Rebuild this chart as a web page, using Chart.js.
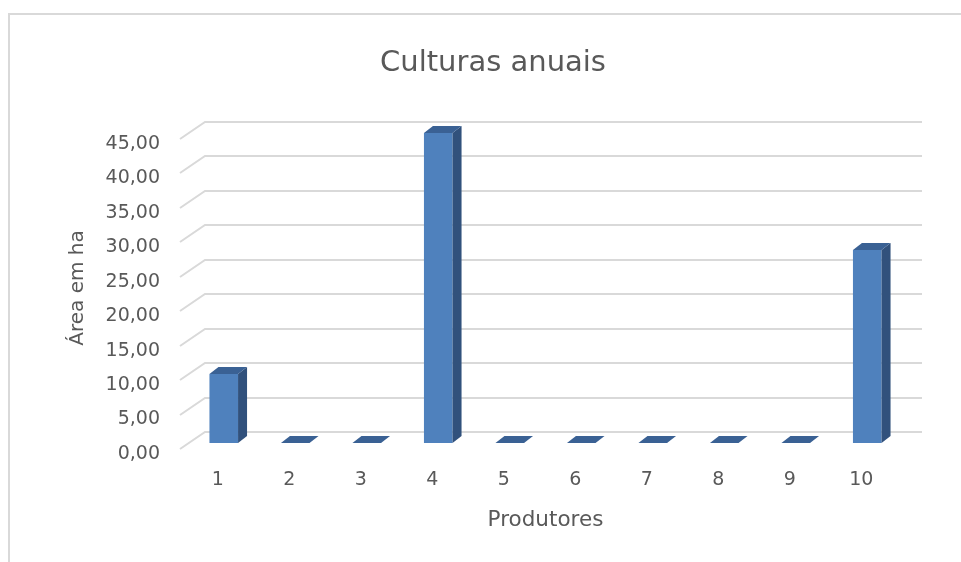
<!DOCTYPE html>
<html><head><meta charset="utf-8">
<script src="https://cdn.jsdelivr.net/npm/chart.js@4/dist/chart.umd.min.js"></script>
<style>
html,body{margin:0;padding:0;background:#fff;overflow:hidden;}
#wrap{position:relative;width:961px;height:562px;overflow:hidden;}
#frame{position:absolute;left:8px;top:13px;width:2000px;height:2000px;border-left:2px solid #d9d9d9;border-top:2px solid #d9d9d9;}
canvas{position:absolute;left:0;top:0;}
</style></head><body>
<div id="wrap"><div id="frame"></div><canvas id="c" width="961" height="562"></canvas></div>
<script>
const chartTitle = 'Culturas anuais';
const xAxisTitle = 'Produtores';
const yAxisTitle = 'Área em ha';
const categories = ['1','2','3','4','5','6','7','8','9','10'];
const areaValues = [10, 0, 0, 45, 0, 0, 0, 0, 0, 28];
const yTickValues = [0, 5, 10, 15, 20, 25, 30, 35, 40, 45];
const yTickLabels = ['0,00','5,00','10,00','15,00','20,00','25,00','30,00','35,00','40,00','45,00'];

const TEXT = '#595959';
const FONT = "'DejaVu Sans', sans-serif";
const GRID = '#d9d9d9';
const FRONT = '#4f81bd';
const SIDE = '#31517c';
const TOP = '#3a6194';
const BAR_DX = 9, BAR_DY = -7;

const wall3d = {
  id: 'wall3d',
  beforeDatasetsDraw(chart) {
    const {ctx, chartArea: a, scales: {y}} = chart;
    ctx.save();
    ctx.strokeStyle = GRID;
    ctx.lineWidth = 2;
    yTickValues.forEach(v => {
      const py = Math.round(y.getPixelForValue(v));
      ctx.beginPath();
      ctx.moveTo(a.left - 8, py + 6);
      ctx.lineTo(a.left + 17, py - 11);
      ctx.lineTo(a.right + 19, py - 11);
      ctx.stroke();
    });
    ctx.restore();
  },
  afterDatasetsDraw(chart) {
    const {ctx} = chart;
    const meta = chart.getDatasetMeta(0);
    ctx.save();
    meta.data.forEach(bar => {
      const p = bar.getProps(['x', 'y', 'base', 'width'], true);
      const x1 = p.x - p.width / 2, x2 = p.x + p.width / 2;
      const top = Math.min(p.y, p.base), bot = Math.max(p.y, p.base);
      if (bot - top > 0.5) {
        ctx.fillStyle = SIDE;
        ctx.beginPath();
        ctx.moveTo(x2, top);
        ctx.lineTo(x2 + BAR_DX, top + BAR_DY);
        ctx.lineTo(x2 + BAR_DX, bot + BAR_DY);
        ctx.lineTo(x2, bot);
        ctx.closePath();
        ctx.fill();
      }
      ctx.fillStyle = TOP;
      ctx.beginPath();
      ctx.moveTo(x1, top);
      ctx.lineTo(x2, top);
      ctx.lineTo(x2 + BAR_DX, top + BAR_DY);
      ctx.lineTo(x1 + BAR_DX, top + BAR_DY);
      ctx.closePath();
      ctx.fill();
    });
    ctx.restore();
  }
};

new Chart(document.getElementById('c'), {
  type: 'bar',
  data: {
    labels: categories,
    datasets: [{
      data: areaValues,
      backgroundColor: FRONT,
      borderWidth: 0,
      categoryPercentage: 1,
      barPercentage: 0.4
    }]
  },
  options: {
    responsive: false,
    animation: false,
    devicePixelRatio: 1,
    layout: {padding: {left: 25, right: 0, top: 0, bottom: 0}},
    plugins: {
      legend: {display: false},
      tooltip: {enabled: false},
      title: {
        display: true,
        text: chartTitle,
        color: TEXT,
        font: {family: FONT, size: 29, weight: 'normal'},
        padding: {top: 45.6, bottom: 52.6}
      }
    },
    scales: {
      x: {
        grid: {display: false, drawTicks: false},
        border: {display: false},
        ticks: {color: TEXT, font: {family: FONT, size: 19}, padding: 25.6, labelOffset: -6, maxRotation: 0},
        title: {display: true, text: xAxisTitle, color: TEXT, font: {family: FONT, size: 21.5}, padding: {top: 0, bottom: 29}},
        afterFit(s) { s.height = 119; }
      },
      y: {
        min: 0, max: 45,
        grid: {display: false, drawTicks: false},
        border: {display: false},
        afterBuildTicks(s) { s.ticks = yTickValues.map(v => ({value: v})); },
        ticks: {
          color: TEXT, font: {family: FONT, size: 19}, padding: 28, labelOffset: 11,
          callback: (v) => yTickLabels[yTickValues.indexOf(v)]
        },
        title: {display: true, text: yAxisTitle, color: TEXT, font: {family: FONT, size: 20}, padding: {top: 41, bottom: 0}},
        afterFit(s) { s.width = 163; }
      },
      y2: {
        position: 'right',
        display: true,
        grid: {display: false, drawTicks: false},
        border: {display: false},
        ticks: {display: false},
        afterFit(s) { s.width = 58; }
      }
    }
  },
  plugins: [wall3d]
});
</script>
</body></html>
